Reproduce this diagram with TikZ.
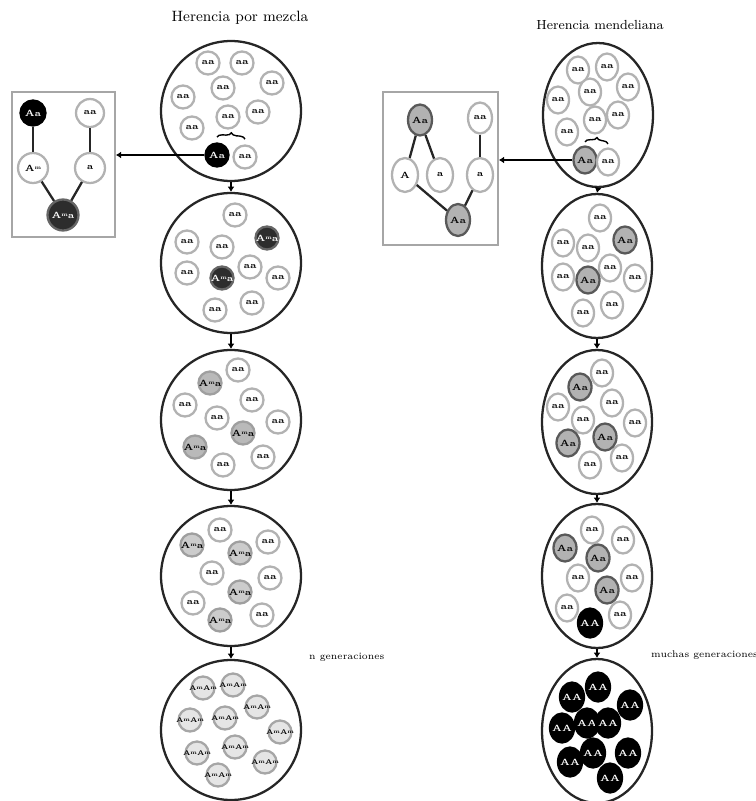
\documentclass[tikz,border=0pt]{standalone}
\usetikzlibrary{shapes.geometric,arrows.meta,decorations.pathreplacing}
\newcommand{\Amz}{A\raisebox{0.45ex}{\fontsize{3}{3}\selectfont m}}
\newcommand{\cellt}[1]{\makebox[0pt]{#1}}
\tikzset{
  cellfont/.style={font=\fontsize{5}{5}\selectfont\bfseries},
  cell/.style={circle, draw=gray!60, line width=1.3pt, fill=white, minimum size=0.46cm, inner sep=0pt, cellfont},
  cellr/.style={ellipse, draw=gray!60, line width=1.3pt, fill=white, minimum width=0.44cm, minimum height=0.54cm, inner sep=0pt, cellfont},
  darkcell/.style={cell, draw=gray!80!black, fill=gray!35!black, text=white},
  midcell/.style={cell, draw=gray!75, fill=gray!55},
  lightcell/.style={cell, draw=gray!70, fill=gray!20, font=\fontsize{3.8}{4}\selectfont\bfseries},
  graycellr/.style={cellr, draw=gray!70!black, fill=gray!60},
  blackcellr/.style={cellr, draw=black, fill=black, text=white, minimum width=0.48cm, minimum height=0.58cm},
  bigc/.style={circle, draw=black!85, line width=1.3pt, minimum size=2.8cm, inner sep=0pt},
  bige/.style={ellipse, draw=black!85, line width=1.3pt, minimum width=2.2cm, minimum height=2.88cm, inner sep=0pt},
  conn/.style={line width=1.1pt, -{Latex[length=3pt,width=4pt]}},
  boxframe/.style={draw=gray!70, line width=1pt, inner sep=0pt},
  pedline/.style={line width=1.3pt, black!85}
}
\begin{document}
\begin{tikzpicture}[x=0.02cm, y=-0.02cm]
    \useasboundingbox (0,0) rectangle (756,801);

    % titles
    \node[font=\fontsize{8.5}{9}\selectfont] (tl) at (240,18) {Herencia por mezcla};
    \node[font=\fontsize{7.5}{8}\selectfont] (tr) at (600,25) {Herencia mendeliana};

    % herencia por mezcla
    \node[bigc] (L1) at (231,111) {};
    \node[bigc] (L2) at (231,263) {};
    \node[bigc] (L3) at (231,420) {};
    \node[bigc] (L4) at (231,576) {};
    \node[bigc] (L5) at (231,730) {};
    \draw[conn] (L1.south) -- (L2.north);
    \draw[conn] (L2.south) -- (L3.north);
    \draw[conn] (L3.south) -- (L4.north);
    \draw[conn] (L4.south) -- (L5.north);

    \foreach \x/\y [count=\i] in {208/63,242/63,223/88,272/83,183/97,228/117,258/112,192/128}
        \node[cell] (L1w\i) at (\x,\y) {aa};
    \node[cell, draw=black, fill=black, text=white] (L1A) at (217,155) {Aa};
    \node[cell] (L1a) at (245,157) {aa};
    \draw[decorate, decoration={brace, amplitude=3pt}, line width=0.8pt] ([yshift=3pt]L1A.north) -- ([yshift=3pt]L1a.north);

    \foreach \x/\y [count=\i] in {235/215,187/242,222/247,187/273,250/267,278/278,215/310,252/303}
        \node[cell] (L2w\i) at (\x,\y) {aa};
    \foreach \x/\y [count=\i] in {267/238,222/278}
        \node[darkcell] (L2d\i) at (\x,\y) {\cellt{\Amz a}};

    \foreach \x/\y [count=\i] in {238/370,185/405,252/400,217/418,278/422,263/457,223/465}
        \node[cell] (L3w\i) at (\x,\y) {aa};
    \foreach \x/\y [count=\i] in {210/383,243/433,195/447}
        \node[midcell] (L3g\i) at (\x,\y) {\cellt{\Amz a}};

    \foreach \x/\y [count=\i] in {220/530,268/542,212/573,270/578,193/603,262/615}
        \node[cell] (L4w\i) at (\x,\y) {aa};
    \foreach \x/\y [count=\i] in {192/545,240/553,240/592,220/620}
        \node[midcell, fill=gray!40] (L4g\i) at (\x,\y) {\cellt{\Amz a}};

    \foreach \x/\y [count=\i] in {203/688,233/685,257/707,190/720,225/718,280/732,197/753,235/747,265/762,218/775}
        \node[lightcell] (L5g\i) at (\x,\y) {\cellt{\Amz\Amz}};

    \node[font=\fontsize{5.5}{6}\selectfont, anchor=west] (ngen) at (303,657) {n generaciones};

    % cuadro izquierdo
    \node[boxframe, minimum width=2.06cm, minimum height=2.9cm] (boxL) at (63.5,164.5) {};
    \node[cell, draw=black, fill=black, text=white, minimum size=0.5cm] (bLAa) at (33,113) {Aa};
    \node[cell, minimum size=0.56cm] (bLaa) at (90,113) {aa};
    \node[cell, minimum size=0.6cm] (bLAm) at (33,168) {\Amz};
    \node[cell, minimum size=0.6cm] (bLa) at (90,168) {a};
    \node[darkcell, minimum size=0.62cm] (bLh) at (63,215) {\cellt{\Amz a}};
    \draw[pedline] (bLAa) -- (bLAm);
    \draw[pedline] (bLaa) -- (bLa);
    \draw[pedline] (bLAm) -- (bLh);
    \draw[pedline] (bLa) -- (bLh);
    \draw[conn, line width=1.4pt] (L1A.west) -- (L1A.west -| boxL.east);

    % herencia mendeliana
    \node[bige] (R1) at (598,115) {};
    \node[bige] (R2) at (597,266) {};
    \node[bige] (R3) at (597,422) {};
    \node[bige] (R4) at (597,576) {};
    \node[bige] (R5) at (597,731) {};
    \draw[conn] (R1.south) -- (R2.north);
    \draw[conn] (R2.south) -- (R3.north);
    \draw[conn] (R3.south) -- (R4.north);
    \draw[conn] (R4.south) -- (R5.north);

    \foreach \x/\y [count=\i] in {578/70,607/67,590/92,628/87,558/100,595/120,618/115,567/132}
        \node[cellr] (R1w\i) at (\x,\y) {aa};
    \node[graycellr] (R1A) at (585,160) {Aa};
    \node[cellr] (R1a) at (608,162) {aa};
    \draw[decorate, decoration={brace, amplitude=3pt}, line width=0.8pt] ([yshift=2pt]R1A.north) -- ([yshift=2pt]R1a.north);

    \foreach \x/\y [count=\i] in {600/218,563/243,588/248,563/277,610/268,635/278,583/313,612/305}
        \node[cellr] (R2w\i) at (\x,\y) {aa};
    \foreach \x/\y [count=\i] in {625/240,588/280}
        \node[graycellr] (R2g\i) at (\x,\y) {Aa};

    \foreach \x/\y [count=\i] in {602/373,558/407,612/403,583/420,635/423,622/458,590/465}
        \node[cellr] (R3w\i) at (\x,\y) {aa};
    \foreach \x/\y [count=\i] in {580/387,605/437,568/443}
        \node[graycellr] (R3g\i) at (\x,\y) {Aa};

    \foreach \x/\y [count=\i] in {592/530,623/540,578/578,632/578,567/608,620/615}
        \node[cellr] (R4w\i) at (\x,\y) {aa};
    \foreach \x/\y [count=\i] in {565/548,598/558,607/590}
        \node[graycellr] (R4g\i) at (\x,\y) {Aa};
    \node[blackcellr] (R4b) at (590,623) {\cellt{AA}};

    \foreach \x/\y [count=\i] in {572/697,598/687,630/705,562/728,587/723,608/723,570/762,593/753,628/753,610/778}
        \node[blackcellr] (R5b\i) at (\x,\y) {\cellt{AA}};

    \node[font=\fontsize{5.5}{6}\selectfont, anchor=west] (mgen) at (645,655) {muchas generaciones};

    % cuadro derecho
    \node[boxframe, minimum width=2.3cm, minimum height=3.06cm] (boxR) at (440.5,168.5) {};
    \node[graycellr, minimum width=0.48cm, minimum height=0.62cm] (bRAa) at (420,120) {Aa};
    \node[cellr, minimum width=0.48cm, minimum height=0.62cm] (bRaa) at (480,118) {aa};
    \node[cellr, minimum width=0.52cm, minimum height=0.68cm] (bRA) at (405,175) {A};
    \node[cellr, minimum width=0.52cm, minimum height=0.68cm] (bRa1) at (440,175) {a};
    \node[cellr, minimum width=0.52cm, minimum height=0.68cm] (bRa2) at (480,175) {a};
    \node[graycellr, minimum width=0.48cm, minimum height=0.64cm] (bRh) at (458,220) {Aa};
    \draw[pedline] (bRAa) -- (bRA);
    \draw[pedline] (bRAa) -- (bRa1);
    \draw[pedline] (bRaa) -- (bRa2);
    \draw[pedline] (bRA) -- (bRh);
    \draw[pedline] (bRa2) -- (bRh);
    \draw[conn, line width=1.4pt] (R1A.west) -- (R1A.west -| boxR.east);

\end{tikzpicture}
\end{document}
